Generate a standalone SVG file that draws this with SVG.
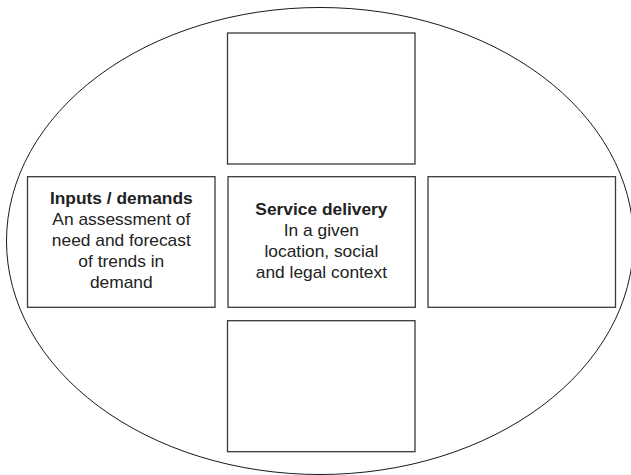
<svg xmlns="http://www.w3.org/2000/svg" width="631" height="475" viewBox="0 0 631 475">
  <style>
    .box { fill: #ffffff; stroke: #3a3a3a; stroke-width: 1.3; }
    .outline { fill: none; stroke: #1a1a1a; stroke-width: 1; }
    .label { font-family: "Liberation Sans", Arial, Helvetica, sans-serif; font-size: 16px; fill: #222222; text-anchor: middle; }
    .title { font-weight: bold; }
  </style>
  <rect width="631" height="475" fill="#ffffff"/>

  <!-- enclosing context -->
  <g id="context">
    <ellipse class="outline" cx="320" cy="241" rx="313.5" ry="233.5"/>
  </g>

  <!-- top -->
  <g id="node-top">
    <rect class="box" x="227.5" y="33" width="187.5" height="131"/>
  </g>

  <!-- inputs / demands -->
  <g id="node-inputs">
    <rect class="box" x="27.5" y="176.7" width="187.5" height="130.6"/>
    <g transform="translate(121.3 0) scale(1.085 1)">
      <text class="label title" x="0" y="204.3">Inputs / demands</text>
      <text class="label" x="0" y="225.2">An assessment of</text>
      <text class="label" x="0" y="246.1">need and forecast</text>
      <text class="label" x="0" y="267">of trends in</text>
      <text class="label" x="0" y="287.9">demand</text>
    </g>
  </g>

  <!-- service delivery -->
  <g id="node-service">
    <rect class="box" x="228" y="176.7" width="187.3" height="130.6"/>
    <g transform="translate(321.4 0) scale(1.085 1)">
      <text class="label title" x="0" y="215">Service delivery</text>
      <text class="label" x="0" y="236">In a given</text>
      <text class="label" x="0" y="257.2">location, social</text>
      <text class="label" x="0" y="278.3">and legal context</text>
    </g>
  </g>

  <!-- right -->
  <g id="node-right">
    <rect class="box" x="428" y="176.7" width="187.5" height="130.6"/>
  </g>

  <!-- bottom -->
  <g id="node-bottom">
    <rect class="box" x="227.5" y="320.7" width="187.5" height="131"/>
  </g>
</svg>
